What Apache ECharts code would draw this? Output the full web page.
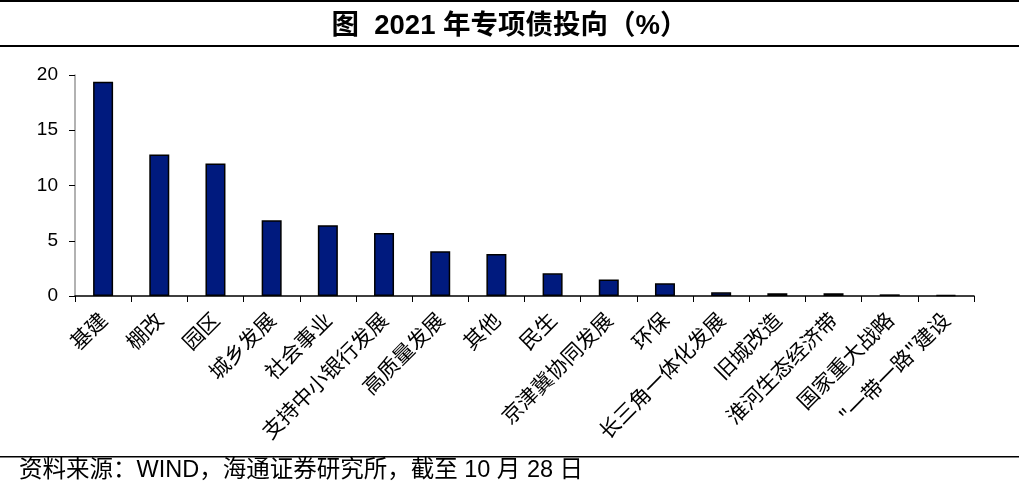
<!DOCTYPE html>
<html>
<head>
<meta charset="utf-8">
<script src="https://cdn.jsdelivr.net/npm/echarts@6/dist/echarts.min.js"></script>
<style>
html,body{margin:0;padding:0;background:#fff;}
#chart{width:1019px;height:487px;}
</style>
</head>
<body>
<div id="chart"></div>
<script>
const categories = ['基建','棚改','园区','城乡发展','社会事业','支持中小银行发展','高质量发展','其他','民生','京津冀协同发展','环保','长三角一体化发展','旧城改造','淮河生态经济带','国家重大战略','"一带一路"建设'];
const values = [19.4, 12.8, 12.0, 6.85, 6.4, 5.7, 4.05, 3.8, 2.05, 1.5, 1.15, 0.33, 0.25, 0.25, 0.15, 0.07];
const yTicks = [0, 5, 10, 15, 20];
const titleText = '图  2021 年专项债投向（%）';
const sourceText = '资料来源：WIND，海通证券研究所，截至 10 月 28 日';

const chart = echarts.init(document.getElementById('chart'), null, {renderer:'canvas'});
chart.setOption({
  animation: false,
  backgroundColor: '#fff',
  title: {
    text: titleText,
    left: 'center',
    top: 8,
    textStyle: {fontFamily: '"Liberation Sans", "Noto Sans CJK SC", sans-serif', fontSize: 27.5, fontWeight: 'bold', color: '#000'}
  },
  graphic: [
    {type:'rect', shape:{x:0, y:0, width:1019, height:2}, style:{fill:'#000'}},
    {type:'rect', shape:{x:0, y:45, width:1019, height:2}, style:{fill:'#000'}},
    {type:'rect', shape:{x:0, y:456, width:1019, height:1.5}, style:{fill:'#000'}},
    {type:'text', left: 19, top: 459, style:{text: sourceText, fontFamily:'"Liberation Sans", "Noto Sans CJK SC", sans-serif', fontSize:23.5, fill:'#000'}}
  ],
  grid: {left: 75, right: 45, top: 75, bottom: 191, containLabel: false},
  xAxis: {
    type: 'category',
    data: categories,
    axisLine: {lineStyle: {color: '#000', width: 1.5}},
    axisTick: {show: true, length: 6, lineStyle: {color: '#000', width: 1}},
    axisLabel: {
      rotate: 45, interval: 0, margin: 20,
      fontFamily: '"Noto Sans CJK SC", sans-serif', fontSize: 21, color: '#000'
    }
  },
  yAxis: {
    type: 'value',
    min: 0, max: 20, interval: 5,
    axisLine: {show: true, lineStyle: {color: '#999', width: 1.5}},
    axisTick: {show: true, length: 6, lineStyle: {color: '#000', width: 1}},
    splitLine: {show: false},
    axisLabel: {
      margin: 17, fontFamily: '"Liberation Sans", Arial, sans-serif', fontSize: 19, color: '#000',
      formatter: function(v){ return yTicks.indexOf(v) >= 0 ? String(v) : ''; }
    }
  },
  series: [{
    type: 'bar',
    data: values,
    barWidth: 20,
    itemStyle: {color: '#001A7E', borderColor: '#000', borderWidth: 1.5}
  }]
});
</script>
</body>
</html>
